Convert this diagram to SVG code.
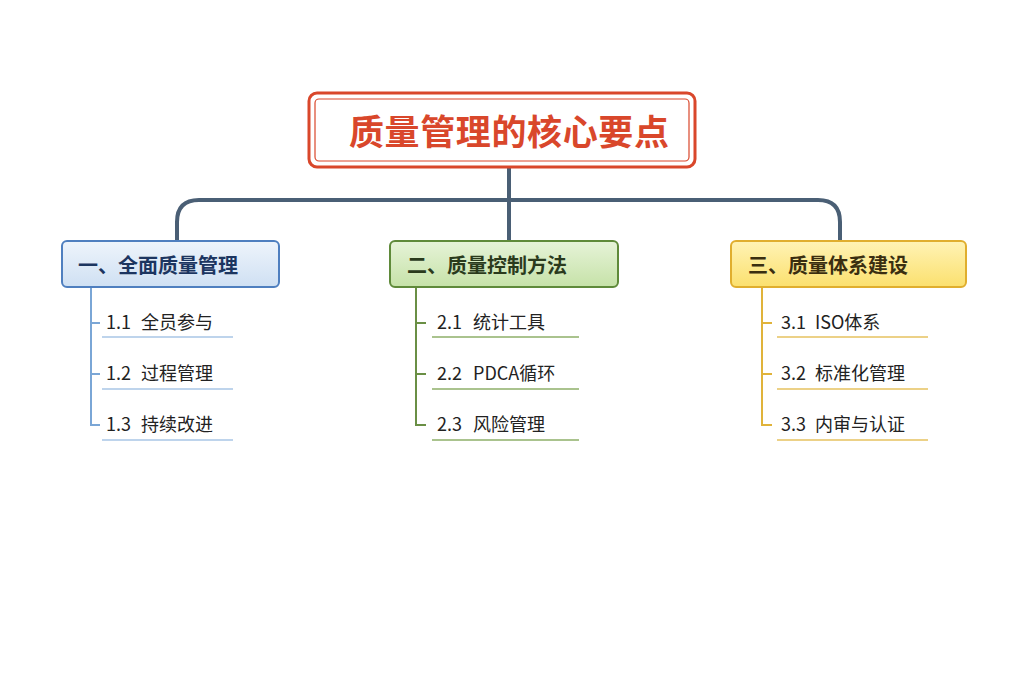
<svg xmlns="http://www.w3.org/2000/svg" width="1024" height="683" viewBox="0 0 1024 683">
<style>
text{font-family:"Noto Sans CJK SC","Noto Sans",sans-serif;}
.b{font-weight:bold;font-size:20px;}
.l{font-size:18px;fill:#222;}
</style>
<defs>
<linearGradient id="g1" x1="0" y1="0" x2="0" y2="1"><stop offset="0" stop-color="#eef4fb"/><stop offset="1" stop-color="#cfe0f3"/></linearGradient>
<linearGradient id="g2" x1="0" y1="0" x2="0" y2="1"><stop offset="0" stop-color="#e6f3d8"/><stop offset="1" stop-color="#c6e2a8"/></linearGradient>
<linearGradient id="g3" x1="0" y1="0" x2="0" y2="1"><stop offset="0" stop-color="#fff3b5"/><stop offset="1" stop-color="#fbe06e"/></linearGradient>
</defs>
<rect width="1024" height="683" fill="#fff"/>
<g id="connectors" fill="none">
<path d="M509 167V240M177 240V222Q177 200 199 200H818Q840 200 840 222V240" stroke="#4a5f75" stroke-width="4"/>
<path d="M91 287V425H100M91 323H100M91 374H100" stroke="#7aa6d6" stroke-width="2"/>
<path d="M416 287V425H426M416 323H426M416 374H426" stroke="#6a8f45" stroke-width="2"/>
<path d="M762 287V425H772M762 323H772M762 374H772" stroke="#e0b33a" stroke-width="2"/>
<path d="M102 337H233M102 389H233M102 440H233" stroke="#a9c6e6" stroke-width="1.5"/>
<path d="M432 337H579M432 389H579M432 440H579" stroke="#8fb06a" stroke-width="1.5"/>
<path d="M777 337H928M777 389H928M777 440H928" stroke="#e6c260" stroke-width="1.5"/>
</g>
<g id="title">
<rect x="309" y="93" width="386" height="74" rx="8" fill="#fff" stroke="#d9472b" stroke-width="3"/>
<rect x="315" y="99" width="374" height="62" rx="4" fill="none" stroke="#d9472b" stroke-width="1.2"/>
<text x="349" y="145" font-size="35" font-weight="bold" fill="#d9472b" textLength="320">质量管理的核心要点</text>
</g>
<g id="n1">
<rect x="62" y="241" width="217" height="46" rx="5" fill="url(#g1)" stroke="#4f7fbf" stroke-width="2"/>
<text class="b" x="78" y="273" fill="#1c3560">一、全面质量管理</text>
</g>
<g id="n2">
<rect x="390" y="241" width="228" height="46" rx="5" fill="url(#g2)" stroke="#5f8a3a" stroke-width="2"/>
<text class="b" x="407" y="273" fill="#2a3a1c">二、质量控制方法</text>
</g>
<g id="n3">
<rect x="731" y="241" width="235" height="46" rx="5" fill="url(#g3)" stroke="#e0ae2e" stroke-width="2"/>
<text class="b" x="748" y="273" fill="#3a2e10">三、质量体系建设</text>
</g>
<g id="leaves" class="l">
<text class="l" x="106" y="329">1.1<tspan x="141">全员参与</tspan></text>
<text class="l" x="106" y="380">1.2<tspan x="141">过程管理</tspan></text>
<text class="l" x="106" y="431">1.3<tspan x="141">持续改进</tspan></text>
<text class="l" x="437" y="329">2.1<tspan x="473">统计工具</tspan></text>
<text class="l" x="437" y="380">2.2<tspan x="473">PDCA循环</tspan></text>
<text class="l" x="437" y="431">2.3<tspan x="473">风险管理</tspan></text>
<text class="l" x="781" y="329">3.1<tspan x="815">ISO体系</tspan></text>
<text class="l" x="781" y="380">3.2<tspan x="815">标准化管理</tspan></text>
<text class="l" x="781" y="431">3.3<tspan x="815">内审与认证</tspan></text>
</g>
</svg>
